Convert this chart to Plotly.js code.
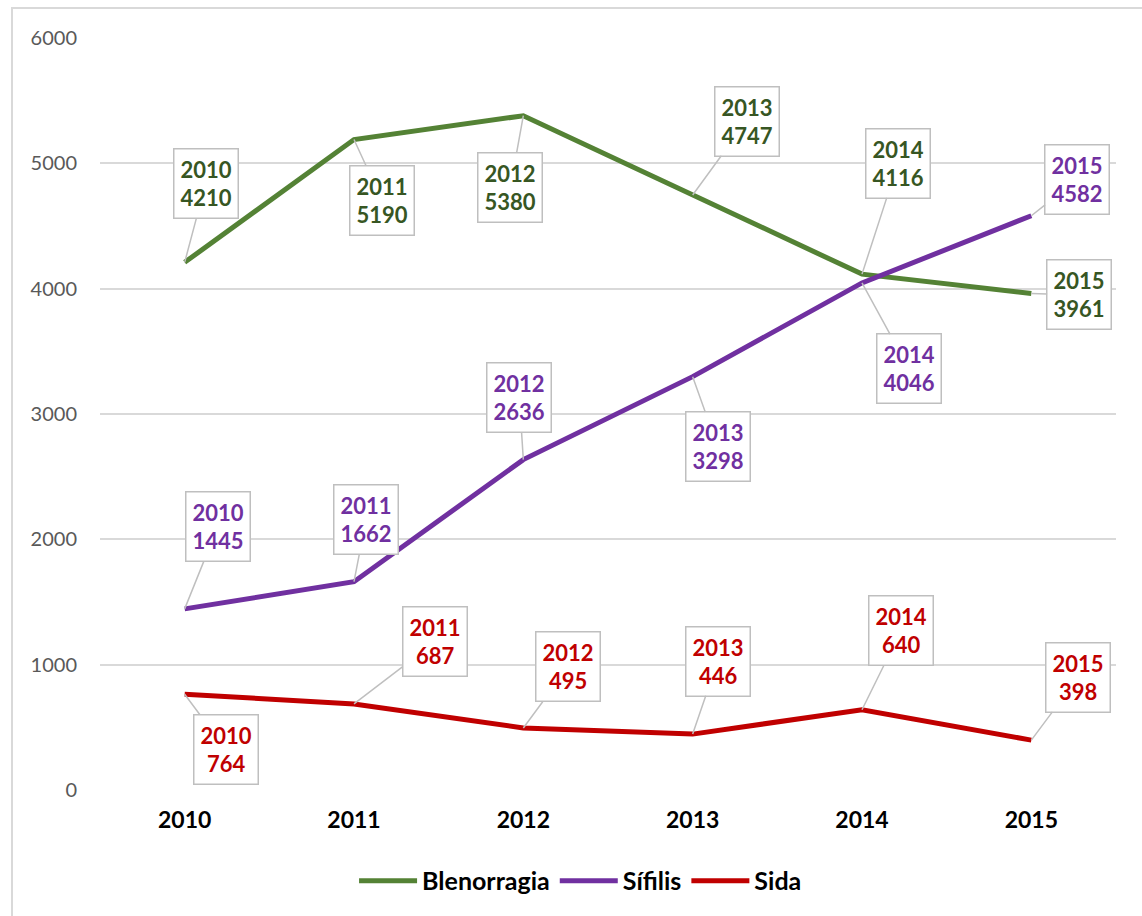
<!DOCTYPE html>
<html>
<head>
<meta charset="utf-8">
<script src="https://cdn.plot.ly/plotly-3.0.1.min.js"></script>
<style>
  html, body { margin: 0; padding: 0; background: #ffffff; overflow: hidden; }
  #frame { position: absolute; left: 11px; top: 7px; width: 1300px; height: 1100px; border: 2px solid #d9d9d9; box-sizing: border-box; }
  #chart { position: absolute; left: 0; top: 0; width: 1142px; height: 916px; }
</style>
</head>
<body>
<div id="frame"></div>
<div id="chart"></div>
<script>
// ---- data ----
const years = ["2010", "2011", "2012", "2013", "2014", "2015"];
const blenorragia = [4210, 5190, 5380, 4747, 4116, 3961];
const sifilis = [1445, 1662, 2636, 3298, 4046, 4582];
const sida = [764, 687, 495, 446, 640, 398];
const seriesNames = ["Blenorragia", "Sífilis", "Sida"];
const yTicks = [0, 1000, 2000, 3000, 4000, 5000, 6000];

// ---- styles / label placement (pixel offsets of callout boxes) ----
const lineColors = ["#548235", "#7030a0", "#c00000"];
const labelColors = ["#375623", "#7030a0", "#c00000"];
const offsets = [
  [[21, -79], [28, 61], [-13, 72], [54, -74], [36, -111], [48, 1]],
  [[33, -82], [12, -62], [-4, -62], [25, 70], [47, 86], [46, -36]],
  [[41, 55], [81, -62], [45, -61], [25, -73], [39, -79], [47, -63]]
];

const allSeries = [blenorragia, sifilis, sida];
const traces = allSeries.map((vals, i) => ({
  type: "scatter",
  mode: "lines",
  x: years,
  y: vals,
  name: seriesNames[i],
  line: { color: lineColors[i], width: 5 },
  hoverinfo: "skip"
}));

const annotations = [];
allSeries.forEach((vals, i) => {
  vals.forEach((v, j) => {
    annotations.push({
      x: j, y: v, xref: "x", yref: "y",
      text: years[j] + "<br>" + v,
      showarrow: true, arrowhead: 0, arrowwidth: 1.5, arrowcolor: "#bfbfbf",
      ax: offsets[i][j][0], ay: offsets[i][j][1],
      bgcolor: "#ffffff", bordercolor: "#bfbfbf", borderwidth: 1.5, borderpad: 6,
      font: { family: "Lato, sans-serif", size: 22, color: labelColors[i], weight: "bold" }
    });
  });
});

const layout = {
  width: 1142, height: 916,
  margin: { l: 100, r: 26, t: 38, b: 124 },
  paper_bgcolor: "rgba(0,0,0,0)",
  plot_bgcolor: "rgba(0,0,0,0)",
  showlegend: true,
  legend: {
    orientation: "h", x: 0.473, xanchor: "center", y: -0.121, yanchor: "middle",
    itemwidth: 58,
    font: { family: "Lato, sans-serif", size: 25, color: "#000000", weight: "bold" },
    itemclick: false, itemdoubleclick: false, traceorder: "normal"
  },
  xaxis: {
    type: "category", range: [-0.5, 5.5],
    showgrid: false, zeroline: false, showline: false, ticks: "",
    tickfont: { family: "Lato, sans-serif", size: 23, color: "#000000", weight: "bold" },
    ticklabelstandoff: 14, fixedrange: true
  },
  yaxis: {
    range: [0, 6000], tickvals: yTicks, ticktext: yTicks.map(String),
    showgrid: true, gridcolor: "#d9d9d9", gridwidth: 2,
    zeroline: false, showline: false, ticks: "",
    tickfont: { family: "Lato, sans-serif", size: 20, color: "#595959" },
    ticklabelstandoff: 22, fixedrange: true
  },
  annotations: annotations
};

Plotly.newPlot("chart", traces, layout, { displayModeBar: false, staticPlot: true });
</script>
</body>
</html>
